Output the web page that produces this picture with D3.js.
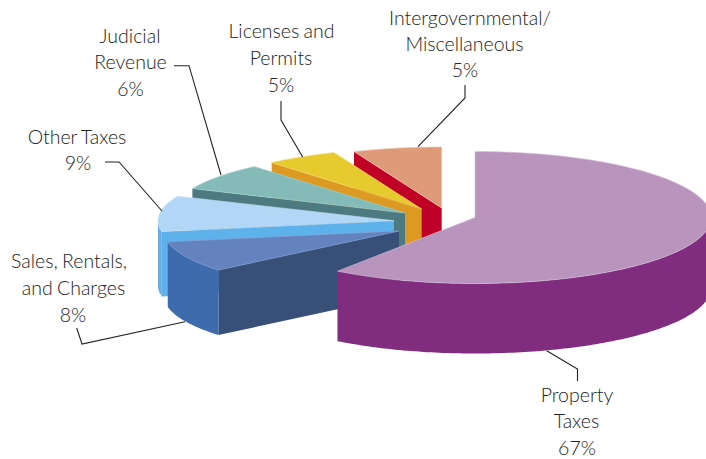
<!DOCTYPE html>
<html>
<head>
<meta charset="utf-8">
<script src="https://cdn.jsdelivr.net/npm/d3@7/dist/d3.min.js"></script>
<style>
html,body{margin:0;padding:0;background:#fff;overflow:hidden}
svg{display:block}
text{font-family:Lato,"Open Sans",sans-serif;font-weight:300;font-size:19.5px;fill:#222;text-anchor:middle;word-spacing:-1px}
</style>
</head>
<body>
<svg id="chart" width="706" height="459"></svg>
<script>
// Data, clockwise starting from the lower-left wedge
const categories = ["Sales, Rentals, and Charges","Other Taxes","Judicial Revenue","Licenses and Permits","Intergovernmental/ Miscellaneous","Property Taxes"];
const labelledPercent = [8,9,6,5,5,67];
// Shares as the wedges are actually drawn in the picture (percent of a full turn)
const drawnShare = [8.2,9.4,7.2,5.05,6.2,59.9];

// Colours and layout
const topColors  = ["#6482BE","#B2D6F5","#84BBB9","#E7CA2E","#DD9B79","#B995BD"];
const wallColors = ["#384F78","#5EB2EC","#4C7A80","#DD9A22","#C00027","#802D80"];
const rimColors  = ["#3D6BAE","#6BACE0","#4C7A80","#DD9A22","#C00027","#802D80"];
const edgeColors = ["#8CA3D2","#C8E2F8","#A5D0CE","#F0DC70","#F0C8B0","#D8BEDC"];
const apexX = [399,394,405,421.7,441.7,475];
const apexY = [231,220.7,213,209,208,217.5];
const radiusX = [235,236,232,231,231,236];
const radiusY = [61,61,61,61,61,66];
const depth  = [65,65,65,65,65,70];
const drawOrder = [4,3,2,1,0,5];

const labelLines = [
  ["Sales, Rentals,","and Charges","8%"],
  ["Other Taxes","9%"],
  ["Judicial","Revenue","6%"],
  ["Licenses and","Permits","5%"],
  ["Intergovernmental/","Miscellaneous","5%"],
  ["Property","Taxes","67%"]
];
const labelX = [[69,73.5,73],[77,78],[130,130.5,130.5],[281.5,281,281],[470,464.5,465],[577,576.5,577]];
const labelBase = [[268,295,322],[144,170],[43,69,96],[38,65,92],[25,51,77],[402,428,455]];
const leaders = [
  [[76.7,328],[82,344],[185,321.7]],
  [[105,162],[119,162],[162,211]],
  [[174,65.7],[189,65.7],[221,175]],
  [[281,101],[281,120],[302.7,157]],
  [[465,85],[465,98],[418,146.7]],
  [[546.7,350.7],[577.5,369],[577.5,381]]
];

const svg = d3.select("#chart");
const rad = d => d*Math.PI/180;
const total = d3.sum(drawnShare);
const propertyShare = drawnShare[drawnShare.length-1];
// wedges are laid out so that the largest one begins exactly at twelve o'clock
const startDeg = 360-(total-propertyShare)*3.6;
const arcs = d3.pie().sort(null)
  .startAngle(rad(startDeg)).endAngle(rad(startDeg + total*3.6))(drawnShare);

const pt = (i,a,dz=0) => [apexX[i]+radiusX[i]*Math.sin(a), apexY[i]-radiusY[i]*Math.cos(a)+dz];
const samples = (a0,a1) => { const n=Math.max(2,Math.ceil((a1-a0)/rad(1))); return d3.range(n+1).map(k=>a0+(a1-a0)*k/n); };
const line = d3.line();

drawOrder.forEach(i=>{
  const d = arcs[i];
  const g = svg.append("g").attr("class","slice");
  const a0=d.startAngle,a1=d.endAngle,h=depth[i];
  // radial wall on the start edge
  g.append("path")
    .attr("d",line([pt(i,a0),[apexX[i],apexY[i]],[apexX[i],apexY[i]+h],pt(i,a0,h)])+"Z")
    .attr("fill",wallColors[i]);
  // outer rim: the part of the circumference that faces the viewer
  [[rad(90),rad(270)],[rad(450),rad(630)]].forEach(([lo,hi])=>{
    const r0=Math.max(a0,lo), r1=Math.min(a1,hi);
    if(r1>r0){
      const s=samples(r0,r1);
      g.append("path")
        .attr("d",line(s.map(a=>pt(i,a)).concat(s.slice().reverse().map(a=>pt(i,a,h))))+"Z")
        .attr("fill",rimColors[i]);
    }
  });
  // top face
  g.append("path")
    .attr("d",line([[apexX[i],apexY[i]]].concat(samples(a0,a1).map(a=>pt(i,a))))+"Z")
    .attr("fill",topColors[i])
    .attr("stroke",edgeColors[i]).attr("stroke-width",0.6).attr("stroke-linejoin","round");
});

// leader lines
svg.append("g").selectAll("path").data(leaders).join("path")
  .attr("d",d=>line(d)).attr("fill","none").attr("stroke","#222").attr("stroke-width",1.1);

// labels
svg.append("g").selectAll("text").data(labelLines.flatMap((ls,i)=>ls.map((t,j)=>({t,x:labelX[i][j],y:labelBase[i][j]}))))
  .join("text").attr("x",d=>d.x).attr("y",d=>d.y).text(d=>d.t);
</script>
</body>
</html>
